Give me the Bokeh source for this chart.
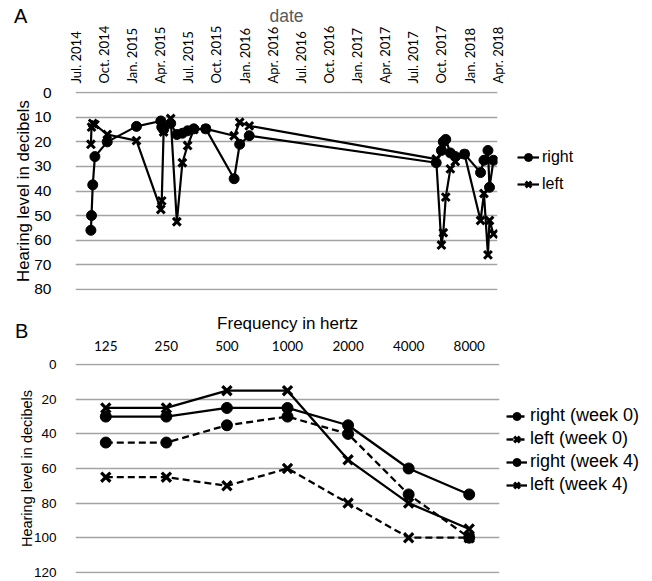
import math
import pandas as pd
from bokeh.plotting import figure
from bokeh.models import (Range1d, FixedTicker, DatetimeTickFormatter, Legend, LegendItem,
                          FactorRange, Div, GridBox)
from bokeh.embed import file_html
from bokeh.resources import INLINE

# ---------------- Panel A data ----------------
visit_dates = ["2014-08-20", "2014-08-22", "2014-08-26", "2014-09-02", "2014-10-12",
               "2015-01-15", "2015-04-04", "2015-04-07", "2015-04-13", "2015-05-06",
               "2015-05-26", "2015-06-13", "2015-06-30", "2015-07-20", "2015-08-28",
               "2015-11-28", "2015-12-16", "2016-01-16", "2017-09-14", "2017-10-01",
               "2017-10-07", "2017-10-15", "2017-10-30", "2017-11-15", "2017-12-15",
               "2018-02-05", "2018-02-16", "2018-03-01", "2018-03-06", "2018-03-19"]
right_db = [56, 50, 37.5, 26, 20, 13.7, 11.5, 14, 15, 12.5, 17, 16.5, 15.5, 14.7, 14.7,
            35, 21, 17.5, 28.5, 23.5, 20, 19, 24.5, 26, 25, 32.5, 27.5, 23.5, 38.5, 27.5]
left_db = [21, 14, 12.5, 13, 17, 19.5, 47.5, 44, 16, 10.5, 52.5, 28.5, 21.5, 15, 14.7,
           17.5, 12, 13.5, 27, 62, 57, 42.5, 31, 28, 25, 52, 41, 66, 52, 57.5]
date_ticks = ["2014-07-01", "2014-10-01", "2015-01-01", "2015-04-01", "2015-07-01",
              "2015-10-01", "2016-01-01", "2016-04-01", "2016-07-01", "2016-10-01",
              "2017-01-01", "2017-04-01", "2017-07-01", "2017-10-01", "2018-01-01",
              "2018-04-01"]
y_ticks_a = [0, 10, 20, 30, 40, 50, 60, 70, 80]

# ---------------- Panel B data ----------------
freq_labels = ["125", "250", "500", "1000", "2000", "4000", "8000"]
right_w0 = [45, 45, 35, 30, 40, 75, 100]
left_w0 = [65, 65, 70, 60, 80, 100, 100]
right_w4 = [30, 30, 25, 25, 35, 60, 75]
left_w4 = [25, 25, 15, 15, 55, 80, 95]
y_ticks_b = [0, 20, 40, 60, 80, 100, 120]

ARIAL = "Liberation Sans"
CAL = "Lato"
GRID = "#a3a3a3"


def ms(s):
    return pd.Timestamp(s).value // 10**6


def style_axes(p):
    for ax in (p.xaxis, p.yaxis):
        ax.axis_line_color = None
        ax.major_tick_line_color = None
        ax.minor_tick_line_color = None
        ax.axis_label_text_font = ARIAL
        ax.axis_label_text_font_style = "normal"
        ax.axis_label_text_color = "black"
        ax.major_label_text_color = "black"
    p.xgrid.grid_line_color = None
    p.ygrid.grid_line_color = GRID
    p.ygrid.grid_line_width = 1.5
    p.outline_line_color = None


def letter_div(letter, pad_left, pad_top):
    return Div(text=letter, width=40, height=50,
               styles={"font-family": "Liberation Sans, Arial, sans-serif",
                       "font-size": "20px", "line-height": "20px", "color": "black",
                       "padding-left": f"{pad_left}px", "padding-top": f"{pad_top}px",
                       "margin": "0px"})


# ================= Figure A =================
xa = pd.to_datetime(visit_dates)
pa = figure(frame_width=422, frame_height=199,
            min_border_left=75, min_border_right=150, min_border_top=91, min_border_bottom=10,
            x_axis_type="datetime", x_axis_location="above",
            x_range=Range1d(ms("2014-07-01"), ms("2018-04-01")),
            y_range=Range1d(80.5, -0.5),
            output_backend="svg", toolbar_location=None)
style_axes(pa)

lr = pa.line(xa, right_db, line_color="black", line_width=2.2)
sr = pa.scatter(xa, right_db, marker="circle", size=10, fill_color="black", line_color="black")
ll = pa.line(xa, left_db, line_color="black", line_width=2.2)
sl = pa.scatter(xa, left_db, marker="x", size=11, line_color="black", line_width=3)

pa.yaxis.ticker = FixedTicker(ticks=y_ticks_a)
pa.xaxis.ticker = FixedTicker(ticks=[ms(d) for d in date_ticks])
fmt = "%b. %Y"
pa.xaxis.formatter = DatetimeTickFormatter(milliseconds=fmt, seconds=fmt, minsec=fmt, minutes=fmt,
                                           hourmin=fmt, hours=fmt, days=fmt, months=fmt, years=fmt)
pa.xaxis.major_label_orientation = math.pi / 2
pa.xaxis.major_label_text_font = CAL
pa.xaxis.major_label_text_font_size = "13px"
pa.xaxis.major_label_standoff = 2
pa.xaxis.axis_label = "date"
pa.xaxis.axis_label_text_font_size = "17.5px"
pa.xaxis.axis_label_text_color = "#595959"
pa.xaxis.axis_label_standoff = -3

pa.yaxis.major_label_text_font = ARIAL
pa.yaxis.major_label_text_font_size = "15.5px"
pa.yaxis.major_label_standoff = 18
pa.yaxis.axis_label = "Hearing level in decibels"
pa.yaxis.axis_label_text_font_size = "16.8px"
pa.yaxis.axis_label_standoff = -2

leg_a = Legend(items=[LegendItem(label="right", renderers=[lr, sr]),
                      LegendItem(label="left", renderers=[ll, sl])],
               location=(20, 96), orientation="vertical",
               padding=0, margin=0, spacing=7, glyph_width=22, glyph_height=20,
               label_height=20, label_standoff=3,
               label_text_font=ARIAL, label_text_font_size="16px", label_text_color="black",
               border_line_color=None, background_fill_alpha=0)
pa.add_layout(leg_a, "right")

# ================= Figure B =================
pb = figure(frame_width=424, frame_height=210,
            min_border_left=74, min_border_right=150, min_border_top=63, min_border_bottom=7,
            x_range=FactorRange(factors=freq_labels), x_axis_location="above",
            y_range=Range1d(120.7, -0.7),
            output_backend="svg", toolbar_location=None)
style_axes(pb)

series = [("right (week 0)", right_w0, "circle", "7 4"),
          ("left (week 0)", left_w0, "x", "7 4"),
          ("right (week 4)", right_w4, "circle", "solid"),
          ("left (week 4)", left_w4, "x", "solid")]
items = []
for name, vals, mk, dash in series:
    l = pb.line(freq_labels, vals, line_color="black", line_width=2.3, line_dash=dash)
    if mk == "circle":
        s = pb.scatter(freq_labels, vals, marker="circle", size=11, fill_color="black",
                       line_color="black")
    else:
        s = pb.scatter(freq_labels, vals, marker="x", size=13, line_color="black", line_width=3.2)
    items.append(LegendItem(label=name, renderers=[l, s]))

pb.yaxis.ticker = FixedTicker(ticks=y_ticks_b)
pb.xaxis.major_label_text_font = CAL
pb.xaxis.major_label_text_font_size = "13.5px"
pb.xaxis.major_label_standoff = 7
pb.xaxis.axis_label = "Frequency in hertz"
pb.xaxis.axis_label_text_font_size = "17px"
pb.xaxis.axis_label_standoff = 5

pb.yaxis.major_label_text_font = ARIAL
pb.yaxis.major_label_text_font_size = "13.5px"
pb.yaxis.major_label_standoff = 13
pb.yaxis.axis_label = "Hearing level in decibels"
pb.yaxis.axis_label_text_font_size = "14.5px"
pb.yaxis.axis_label_standoff = -4

leg_b = Legend(items=items, location=(7, 78), orientation="vertical",
               padding=0, margin=0, spacing=2, glyph_width=21, glyph_height=20,
               label_height=20, label_standoff=3,
               label_text_font=ARIAL, label_text_font_size="18px", label_text_color="black",
               border_line_color=None, background_fill_alpha=0)
pb.add_layout(leg_b, "right")

div_a = letter_div("A", 14, 6)
div_b = letter_div("B", 15, 21)

layout = GridBox(children=[(pa, 0, 0), (div_a, 0, 0), (pb, 1, 0), (div_b, 1, 0)], spacing=0)
open("out.html", "w").write(file_html(layout, INLINE))
